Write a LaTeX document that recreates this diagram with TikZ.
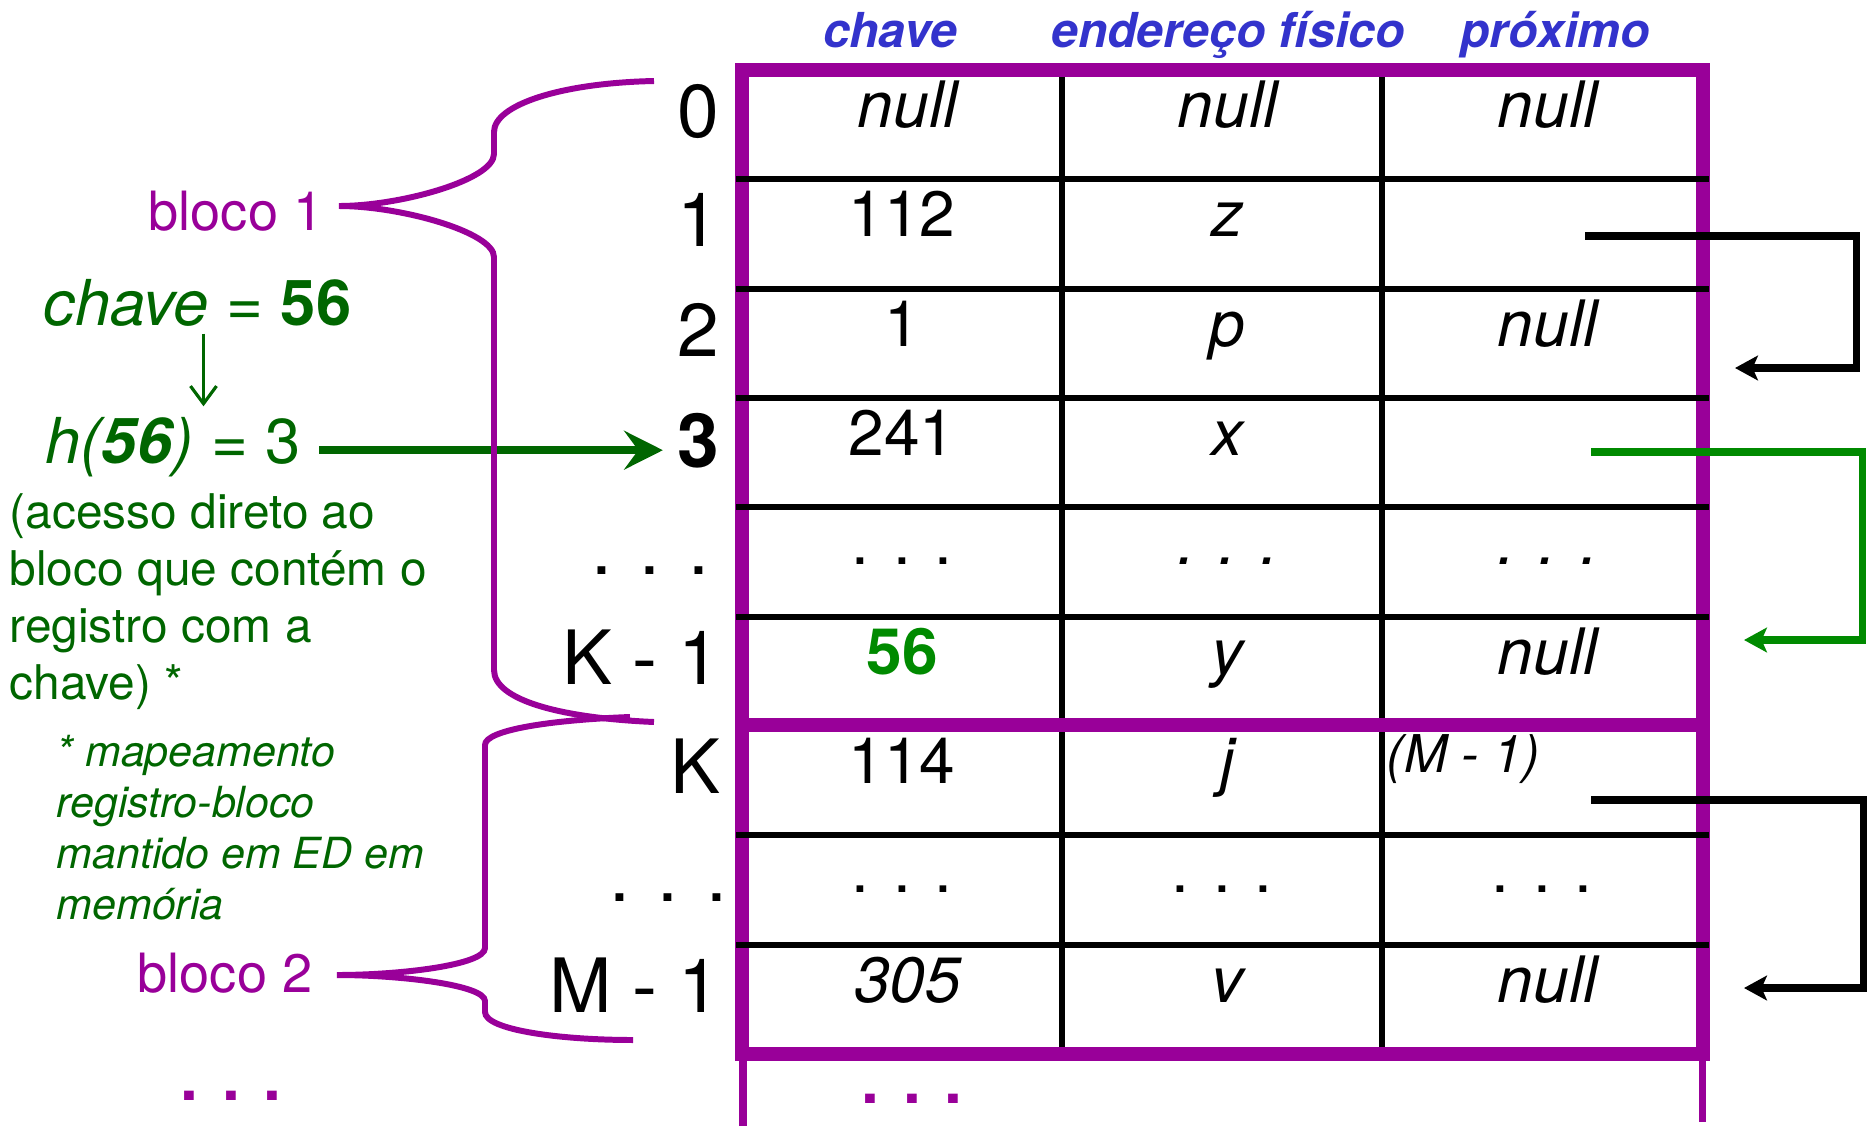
\documentclass[tikz,border=0pt]{standalone}
\usepackage{fontspec}
\setmainfont{TeX Gyre Heros}
\usetikzlibrary{arrows.meta,positioning,calc}

\definecolor{roxo}{HTML}{990099}
\definecolor{verde}{HTML}{006600}
\definecolor{verdevivo}{HTML}{008A00}
\definecolor{azul}{HTML}{3333CC}

\tikzset{
  cell/.style={anchor=base, inner sep=0pt, font=\fontsize{18.2}{22}\selectfont},
  cellit/.style={cell, xshift=1.6pt, font=\fontsize{18.2}{22}\selectfont\itshape},
  rowlbl/.style={anchor=base east, inner sep=0pt, font=\fontsize{21.3}{25}\selectfont},
  colhead/.style={anchor=base, inner sep=0pt, text=azul, font=\fontsize{13.7}{16}\selectfont\bfseries\itshape},
  blocolbl/.style={anchor=base east, inner sep=0pt, text=roxo, font=\fontsize{15.4}{18}\selectfont},
  hashtxt/.style={anchor=base west, inner sep=0pt, text=verde, font=\fontsize{18}{22}\selectfont},
  borda/.style={draw=roxo, line width=4pt},
  linha/.style={line width=1.6pt},
  bracepath/.style={draw=roxo, line width=1.7pt},
  elo/.style={line width=2pt, -{Stealth[length=6.5pt,width=7pt,inset=1.5pt]}},
}

\begin{document}
\begin{tikzpicture}[x=0.01cm, y=-0.01cm]
    \useasboundingbox (0,0) rectangle (1869,1130);

    % Column titles
    \node[colhead] (t-chave) at (890,47) {chave};
    \node[colhead] (t-end) at (1228,47) {endereço físico};
    \node[colhead] (t-prox) at (1555,47) {próximo};

    % Frame of the file, split in two blocks
    \draw[borda] (742,70) rectangle (1703,1054);
    \draw[borda] (742,725) -- (1703,725);
    \draw[roxo, line width=2pt] (743,1061) -- (743,1126);
    \draw[roxo, line width=2pt] (1702,1061) -- (1702,1122);

    % Cell lines
    \draw[linha] (1062,77) -- (1062,718) (1062,732) -- (1062,1047);
    \draw[linha] (1382,77) -- (1382,718) (1382,732) -- (1382,1047);
    \draw[linha] (736,179) -- (1709,179) (736,289) -- (1709,289)
                 (736,398) -- (1709,398) (736,507) -- (1709,507)
                 (736,617) -- (1709,617) (736,835) -- (1709,835)
                 (736,945) -- (1709,945);

    % Row numbers
    \node[rowlbl] (lbl0) at (720,137) {0};
    \node[rowlbl] (lbl1) at (720,246) {1};
    \node[rowlbl] (lbl2) at (720,356) {2};
    \node[rowlbl] (lbl3) at (720,467) {\textbf{3}};
    \node[rowlbl, anchor=base] (lbl-d1) at (650,574) {. . .};
    \node[rowlbl] (lblK1) at (721,684) {K - 1};
    \node[rowlbl] (lblK) at (721,793) {K};
    \node[rowlbl, anchor=base] (lbl-d2) at (668,901) {. . .};
    \node[rowlbl] (lblM1) at (721,1012) {M - 1};

    % Records
    \node[cellit] (c0-1) at (902,127) {null};
    \node[cellit] (c0-2) at (1222,127) {null};
    \node[cellit] (c0-3) at (1542,127) {null};

    \node[cell] (c1-1) at (902,236) {112};
    \node[cellit] (c1-2) at (1222,236) {z};

    \node[cell] (c2-1) at (902,346) {1};
    \node[cellit] (c2-2) at (1222,346) {p};
    \node[cellit] (c2-3) at (1542,346) {null};

    \node[cell] (c3-1) at (902,455) {241};
    \node[cellit] (c3-2) at (1222,455) {x};

    \node[cell] (c4-1) at (902,564) {. . .};
    \node[cellit] (c4-2) at (1222,564) {. . .};
    \node[cellit] (c4-3) at (1542,564) {. . .};

    \node[cell, text=verdevivo] (c5-1) at (902,674) {\textbf{56}};
    \node[cellit] (c5-2) at (1222,674) {y};
    \node[cellit] (c5-3) at (1542,674) {null};

    \node[cell] (c6-1) at (902,783) {114};
    \node[cellit] (c6-2) at (1222,783) {j};
    \node[cell, anchor=base west, font=\fontsize{14.8}{17}\selectfont\itshape] (c6-3) at (1386,772) {(M - 1)};

    \node[cell] (c7-1) at (902,892) {. . .};
    \node[cell] (c7-2) at (1222,892) {. . .};
    \node[cell] (c7-3) at (1542,892) {. . .};

    \node[cellit] (c8-1) at (902,1002) {305};
    \node[cellit] (c8-2) at (1222,1002) {v};
    \node[cellit] (c8-3) at (1542,1002) {null};

    \node[cell, text=roxo, font=\fontsize{18.2}{22}\selectfont\bfseries] (mais-reg) at (912,1103) {. . .};

    % Overflow chains
    \coordinate (prox1) at (1585,236);
    \coordinate (alvo2) at (1735,368);
    \coordinate (prox3) at (1591,452);
    \coordinate (alvoK1) at (1744,640);
    \coordinate (proxK) at (1591,800);
    \coordinate (alvoM1) at (1744,988);
    \draw[elo] (prox1) -- ++(271,0) |- (alvo2);
    \draw[elo, verdevivo] (prox3) -- ++(271,0) |- (alvoK1);
    \draw[elo] (proxK) -- ++(272,0) |- (alvoM1);

    % Hashing of the key
    \node[hashtxt] (chave56) at (43,325) {\textit{chave} = \textbf{56}};
    \node[hashtxt] (h56) at (45,463) {\textit{h(\textbf{56})} = 3};
    \draw[verde, line width=0.9pt, -{Straight Barb[length=5pt,width=7.4pt]},
          shorten <=2pt, shorten >=2.8pt] ([xshift=1.7pt]chave56.south) -- ([xshift=1.7pt]chave56.south |- h56.north);
    \draw[verde, line width=2.3pt, -{Stealth[length=11pt,width=11pt,inset=4pt]},
          shorten <=5pt, shorten >=4pt] ([yshift=-1pt]h56.east) -- ([yshift=-1pt]h56.east -| lbl3.west);

    \node[anchor=north west, inner sep=0pt, align=left, text=verde,
          font=\fontsize{13.6}{16.2}\selectfont] (acesso) at (9,493)
          {(acesso direto ao\\bloco que contém o\\registro com a\\chave) *};
    \node[anchor=north west, inner sep=0pt, align=left, text=verde,
          font=\fontsize{12.2}{14.5}\selectfont\itshape] (nota) at (56,735)
          {* mapeamento\\registro-bloco\\mantido em ED em\\memória};

    % Blocks
    \draw[bracepath] (654,81) .. controls (560,83) and (494,105) .. (494,132) -- (494,154)
        .. controls (494,180) and (400,206) .. (339,206)
        .. controls (400,206) and (494,232) .. (494,257) -- (494,670)
        .. controls (494,700) and (560,718) .. (654,722);
    \draw[bracepath] (630,717) .. controls (550,720) and (485,730) .. (485,745) -- (485,948)
        .. controls (485,965) and (400,975) .. (337,975)
        .. controls (400,975) and (485,985) .. (485,1001) -- (485,1012)
        .. controls (485,1030) and (560,1040) .. (633,1040);
    \node[blocolbl] (bloco1) at (324,230) {bloco 1};
    \node[blocolbl] (bloco2) at (313,992) {bloco 2};
    \node[cell, text=roxo, font=\fontsize{18.2}{22}\selectfont\bfseries] (mais-blocos) at (231,1100) {. . .};
\end{tikzpicture}
\end{document}
